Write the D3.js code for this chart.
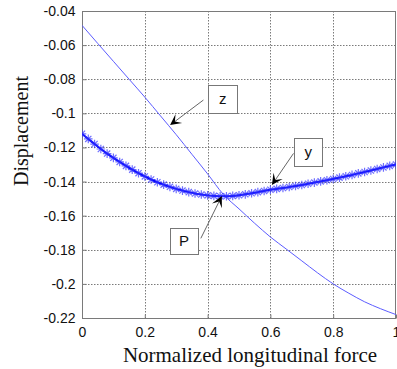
<!DOCTYPE html>
<html><head><meta charset="utf-8">
<script src="https://cdn.jsdelivr.net/npm/d3@7"></script>
<style>body{margin:0;background:#fff}svg{display:block}</style>
</head><body>
<script>
// ---- data ----
const xTicks = [0, 0.2, 0.4, 0.6, 0.8, 1];
const xTickLabels = ["0", "0.2", "0.4", "0.6", "0.8", "1"];
const yTicks = [-0.04, -0.06, -0.08, -0.1, -0.12, -0.14, -0.16, -0.18, -0.2, -0.22];
const yTickLabels = ["-0.04", "-0.06", "-0.08", "-0.1", "-0.12", "-0.14", "-0.16", "-0.18", "-0.2", "-0.22"];

const zForce = [0, 0.05, 0.1, 0.15, 0.2, 0.25, 0.3, 0.35, 0.4, 0.45, 0.5, 0.55, 0.6, 0.65, 0.7, 0.75, 0.8, 0.85, 0.9, 0.95, 1.0];
const zDisp = [-0.0484, -0.0590, -0.0695, -0.0800, -0.0905, -0.1015, -0.1125, -0.1240, -0.1355, -0.1475, -0.1560, -0.1645, -0.1725, -0.1795, -0.1865, -0.1935, -0.2000, -0.2055, -0.2105, -0.2145, -0.2180];

const yForce = [0, 0.02, 0.04, 0.06, 0.08, 0.10, 0.12, 0.14, 0.16, 0.18, 0.20, 0.22, 0.24, 0.26, 0.28, 0.30, 0.32, 0.34, 0.36, 0.38, 0.40, 0.42, 0.44, 0.46, 0.48, 0.50, 0.52, 0.54, 0.56, 0.58, 0.60, 0.62, 0.64, 0.66, 0.68, 0.70, 0.72, 0.74, 0.76, 0.78, 0.80, 0.82, 0.84, 0.86, 0.88, 0.90, 0.92, 0.94, 0.96, 0.98, 1.00];
const yDisp = [-0.1120, -0.1150, -0.1180, -0.1209, -0.1236, -0.1261, -0.1285, -0.1308, -0.1330, -0.1351, -0.1370, -0.1388, -0.1404, -0.1418, -0.1431, -0.1443, -0.1453, -0.1462, -0.1470, -0.1476, -0.1481, -0.1484, -0.1486, -0.1486, -0.1484, -0.1480, -0.1475, -0.1469, -0.1462, -0.1455, -0.1448, -0.1443, -0.1438, -0.1432, -0.1426, -0.1420, -0.1413, -0.1406, -0.1399, -0.1392, -0.1385, -0.1377, -0.1369, -0.1361, -0.1352, -0.1344, -0.1335, -0.1326, -0.1317, -0.1308, -0.1300];

// annotations in data units: label, box [x0,x1,y0,y1], arrow tail, arrow tip
const annLabels = ["z", "y", "P"];
const annBoxes = [[0.4017, 0.4941, -0.0834, -0.0998], [0.6758, 0.7651, -0.1145, -0.1309], [0.2805, 0.3698, -0.1673, -0.1825]];
const annTails = [[0.3867, -0.0922], [0.6736, -0.1235], [0.3784, -0.1733]];
const annTips = [[0.2805, -0.1069], [0.6047, -0.1420], [0.4453, -0.1485]];

const xTitle = "Normalized longitudinal force";
const yTitle = "Displacement";

// ---- layout ----
const W = 397, H = 369;
const L = 82, R = 396, T = 11, B = 318;
const svg = d3.select("body").append("svg").attr("width", W).attr("height", H);
const x = d3.scaleLinear().domain([0, 1]).range([L, R]);
const y = d3.scaleLinear().domain([-0.22, -0.04]).range([B, T]);

const sans = "Arial, 'Liberation Sans', sans-serif";
const serif = "'Times New Roman', 'Liberation Serif', serif";
const gridCol = "#7a7a7a";

// grid
svg.append("g").selectAll("line").data(xTicks.filter(d => d > 0 && d < 1)).join("line")
  .attr("x1", d => Math.round(x(d)) + 0.5).attr("x2", d => Math.round(x(d)) + 0.5).attr("y1", T).attr("y2", B)
  .attr("stroke", gridCol).attr("stroke-width", 1).attr("stroke-dasharray", "1.5,1.5");
svg.append("g").selectAll("line").data(yTicks.filter(d => d > -0.22 && d < -0.04)).join("line")
  .attr("y1", d => Math.round(y(d)) + 0.5).attr("y2", d => Math.round(y(d)) + 0.5).attr("x1", L).attr("x2", R)
  .attr("stroke", gridCol).attr("stroke-width", 1).attr("stroke-dasharray", "1.5,1.5");

// axes via d3
const xAxis = d3.axisBottom(x).tickValues(xTicks).tickFormat((d, i) => xTickLabels[i]).tickSizeInner(-4).tickSizeOuter(0).tickPadding(9);
const yAxis = d3.axisLeft(y).tickValues(yTicks).tickFormat((d, i) => yTickLabels[i]).tickSizeInner(-4).tickSizeOuter(0).tickPadding(7);
const gx = svg.append("g").attr("transform", `translate(0,${B + 0.5})`).call(xAxis);
const gy = svg.append("g").attr("transform", `translate(${L + 0.5},0)`).call(yAxis);
[gx, gy].forEach(g => {
  g.select(".domain").remove();
  g.selectAll("line").attr("stroke", "#7a7a7a");
  g.selectAll("text").attr("font-family", sans).attr("font-size", 14).attr("fill", "#111");
});

// frame
svg.append("rect").attr("x", L + 0.5).attr("y", T + 0.5).attr("width", R - L - 1).attr("height", B - T)
  .attr("fill", "none").attr("stroke", "#7a7a7a").attr("stroke-width", 1);

// clip
svg.append("clipPath").attr("id", "clip").append("rect").attr("x", L).attr("y", T).attr("width", R - L).attr("height", B - T);
const plot = svg.append("g").attr("clip-path", "url(#clip)");

// z line
const zPts = zForce.map((f, i) => [f, zDisp[i]]);
plot.append("path").datum(zPts)
  .attr("d", d3.line().x(d => x(d[0])).y(d => y(d[1])).curve(d3.curveMonotoneX))
  .attr("fill", "none").attr("stroke", "#5c5cff").attr("stroke-width", 1);

// y line with * markers
const yPts = yForce.map((f, i) => [f, yDisp[i]]);
plot.append("path").datum(yPts)
  .attr("d", d3.line().x(d => x(d[0])).y(d => y(d[1])).curve(d3.curveMonotoneX))
  .attr("fill", "none").attr("stroke", "#0000ff").attr("stroke-width", 2);
const s = 4.3, s2 = 3.1;
plot.append("g").selectAll("path").data(yPts).join("path")
  .attr("transform", d => `translate(${x(d[0])},${y(d[1])})`)
  .attr("d", `M${-s},0H${s}M0,${-s}V${s}M${-s2},${-s2}L${s2},${s2}M${-s2},${s2}L${s2},${-s2}`)
  .attr("stroke", "#3030ff").attr("stroke-opacity", 0.7).attr("stroke-width", 1.2).attr("fill", "none");

// annotations
const ann = svg.append("g");
annLabels.forEach((lab, i) => {
  const [tx, ty] = [x(annTails[i][0]), y(annTails[i][1])];
  const [px, py] = [x(annTips[i][0]), y(annTips[i][1])];
  const ang = Math.atan2(py - ty, px - tx);
  const len = 11, wid = 5.5, notch = 6;
  const ca = Math.cos(ang), sa = Math.sin(ang);
  const bx = px - len * ca, by = py - len * sa;
  const nx = px - notch * ca, ny = py - notch * sa;
  ann.append("line").attr("x1", tx).attr("y1", ty).attr("x2", nx).attr("y2", ny)
    .attr("stroke", "#666").attr("stroke-width", 1);
  ann.append("path")
    .attr("d", `M${px},${py}L${bx - wid * sa},${by + wid * ca}L${nx},${ny}L${bx + wid * sa},${by - wid * ca}Z`)
    .attr("fill", "#000");
  const b = annBoxes[i];
  const bx0 = x(b[0]), bx1 = x(b[1]), by0 = y(b[2]), by1 = y(b[3]);
  ann.append("rect").attr("x", Math.round(bx0) + 0.5).attr("y", Math.round(by0) + 0.5)
    .attr("width", Math.round(bx1 - bx0)).attr("height", Math.round(by1 - by0))
    .attr("fill", "#fff").attr("stroke", "#777").attr("stroke-width", 1);
  ann.append("text").attr("x", (bx0 + bx1) / 2).attr("y", (by0 + by1) / 2 + 5)
    .attr("text-anchor", "middle").attr("font-family", sans).attr("font-size", 15).attr("fill", "#111").text(lab);
});

// titles
svg.append("text").attr("x", 250).attr("y", 362).attr("text-anchor", "middle")
  .attr("font-family", serif).attr("font-size", 21).attr("fill", "#111").text(xTitle);
svg.append("text").attr("transform", "translate(28,131) rotate(-90)").attr("text-anchor", "middle")
  .attr("font-family", serif).attr("font-size", 20).attr("fill", "#111").text(yTitle);
</script>
</body></html>
